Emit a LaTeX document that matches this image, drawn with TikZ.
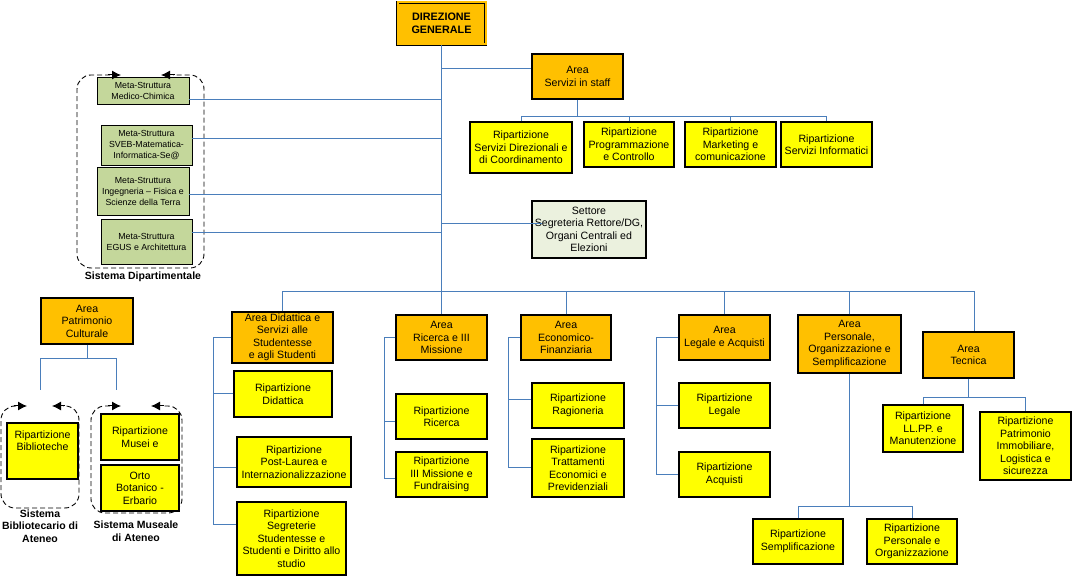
\documentclass[tikz,border=0pt]{standalone}
\usepackage{fontspec}
\setmainfont{Liberation Sans}
\usetikzlibrary{arrows.meta,calc}
\definecolor{orng}{HTML}{FFC000}
\definecolor{ylw}{HTML}{FFFF00}
\definecolor{mgreen}{HTML}{C4D79B}
\definecolor{sgreen}{HTML}{EBF1DE}
\definecolor{lblue}{HTML}{4A7EBB}
\newcommand{\bx}[7]{\node[#6, minimum width={(#4)-(#2)}, minimum height={(#5)-(#3)}] (#1) at ({((#2)+(#4))/2},{((#3)+(#5))/2}) {#7};}
\begin{document}
\begin{tikzpicture}[x=1pt,y=-1pt,
  base/.style={draw=black, line width=1.1pt, inner sep=0pt, align=center, font=\fontsize{10.6}{12.5}\selectfont},
  areabox/.style={base, fill=orng},
  ripbox/.style={base, fill=ylw},
  metabox/.style={base, fill=mgreen, line width=0.9pt, font=\fontsize{8.8}{11}\selectfont},
  setbox/.style={base, fill=sgreen},
  dgbox/.style={base, fill=orng, line width=0.9pt, double=orng, double distance=2pt, font=\bfseries\fontsize{10.8}{12.5}\selectfont},
  conn/.style={draw=lblue, line width=1pt},
  sysline/.style={dash pattern=on 5pt off 3pt, line width=0.9pt, rounded corners=14pt},
  systip/.style={solid, line width=1pt, -{Latex[length=9pt,width=9pt]}},
  syslabel/.style={font=\bfseries\fontsize{10.5}{12.5}\selectfont, align=center, inner sep=0pt}
]
\useasboundingbox (0,0) rectangle (1072,577);

% top
\bx{dg}{397.5}{2.5}{485.5}{44.5}{dgbox}{DIREZIONE\\GENERALE}
\bx{staff}{532}{54}{623}{99}{areabox}{Area\\Servizi in staff}
\bx{r1}{470}{122}{572}{173}{ripbox}{Ripartizione\\Servizi Direzionali e\\di Coordinamento}
\bx{r2}{584}{122}{674}{167}{ripbox}{Ripartizione\\Programmazione\\e Controllo}
\bx{r3}{685}{122}{776}{167}{ripbox}{Ripartizione\\Marketing e\\comunicazione}
\bx{r4}{781}{122}{872}{167}{ripbox}{Ripartizione\\Servizi Informatici}

% meta-strutture
\bx{ms1}{97}{77}{189}{104}{metabox}{Meta-Struttura\\Medico-Chimica}
\bx{ms2}{101}{125}{192}{165}{metabox}{Meta-Struttura\\SVEB-Matematica-\\Informatica-Se@}
\bx{ms3}{97}{167}{189}{215}{metabox}{Meta-Struttura\\Ingegneria – Fisica e\\Scienze della Terra}
\bx{ms4}{101}{219}{192}{264}{metabox}{Meta-Struttura\\EGUS e Architettura}
\draw[sysline] (110,75) -- (77,75) -- (77,268) -- (204,268) -- (204,75) -- (173,75);
\draw[systip] (108,75) -- (121,75);
\draw[systip] (175,75) -- (161,75);
\node[syslabel] (sdlab) at (143,277) {Sistema Dipartimentale};

\bx{settore}{532}{201}{646}{258}{setbox}{Settore\\Segreteria Rettore/DG,\\Organi Centrali ed\\Elezioni}

% patrimonio culturale
\bx{pc}{41}{298}{133}{344}{areabox}{Area\\Patrimonio\\Culturale}
\draw[sysline] (16,406) -- (1,406) -- (1,508) -- (79,508) -- (79,406) -- (63,406);
\draw[systip] (14,406) -- (27,406);
\draw[systip] (65,406) -- (52,406);
\bx{bib}{7}{423}{78}{479}{ripbox}{Ripartizione\\Biblioteche\\[8pt]}
\draw[sysline] (110,406) -- (91,406) -- (91,513) -- (182,513) -- (182,406) -- (162,406);
\draw[systip] (108,406) -- (121,406);
\draw[systip] (164,406) -- (151,406);
\bx{musei}{101}{414}{179}{460}{ripbox}{Ripartizione\\Musei e}
\bx{orto}{101}{465}{179}{511}{ripbox}{Orto\\Botanico -\\Erbario}
\node[syslabel] (sblab) at (40,526) {Sistema\\Bibliotecario di\\Ateneo};
\node[syslabel] (smlab) at (136,531) {Sistema Museale\\di Ateneo};
\coordinate (pcL) at (40,390);
\coordinate (pcR) at (116,390);

% areas
\bx{did}{232}{312}{333}{363}{areabox}{Area Didattica e\\Servizi alle\\Studentesse\\e agli Studenti}
\bx{d1}{234}{371}{332}{417}{ripbox}{Ripartizione\\Didattica}
\bx{d2}{237}{437}{351}{487}{ripbox}{Ripartizione\\Post-Laurea e\\Internazionalizzazione}
\bx{d3}{237}{502}{346}{575}{ripbox}{Ripartizione\\Segreterie\\Studentesse e\\Studenti e Diritto allo\\studio}

\bx{ric}{396}{315}{487}{360}{areabox}{Area\\Ricerca e III\\Missione}
\bx{rr}{396}{394}{487}{439}{ripbox}{Ripartizione\\Ricerca}
\bx{rm}{396}{452}{487}{497}{ripbox}{Ripartizione\\III Missione e\\Fundraising}

\bx{eco}{521}{315}{611}{360}{areabox}{Area\\Economico-\\Finanziaria}
\bx{er}{532}{383}{624}{428}{ripbox}{Ripartizione\\Ragioneria}
\bx{et}{532}{439}{624}{497}{ripbox}{Ripartizione\\Trattamenti\\Economici e\\Previdenziali}

\bx{leg}{679}{315}{770}{360}{areabox}{Area\\Legale e Acquisti}
\bx{ll}{679}{383}{770}{428}{ripbox}{Ripartizione\\Legale}
\bx{la}{679}{452}{770}{497}{ripbox}{Ripartizione\\Acquisti}

\bx{per}{798}{315}{901}{373}{areabox}{Area\\Personale,\\Organizzazione e\\Semplificazione}
\bx{ps}{753}{519}{843}{564}{ripbox}{Ripartizione\\Semplificazione}
\bx{po}{867}{519}{957}{564}{ripbox}{Ripartizione\\Personale e\\Organizzazione}

\bx{tec}{923}{332}{1014}{378}{areabox}{Area\\Tecnica}
\bx{tl}{883}{405}{963}{452}{ripbox}{Ripartizione\\LL.PP. e\\Manutenzione}
\bx{tp}{980}{412}{1071}{480}{ripbox}{Ripartizione\\Patrimonio\\Immobiliare,\\Logistica e\\sicurezza}

% connectors
\draw[conn] (dg.south) -- (ric.north);
\coordinate (stc) at ([yshift=7.5pt]staff.west);
\draw[conn] (stc -| dg.south) -- (stc);
\coordinate (sb) at ([yshift=-17pt]staff.south);
\draw[conn] (staff.south) -- (sb);
\draw[conn] (r1.north) -- (r1.north |- sb) -| (r4.north);
\draw[conn] (r2.north) -- (r2.north |- sb);
\draw[conn] (r3.north) -- (r3.north |- sb);

\coordinate (m1) at ([yshift=-9.5pt]ms1.east);
\coordinate (m2) at ([yshift=6pt]ms2.east);
\coordinate (m3) at ([yshift=-4pt]ms3.east);
\coordinate (m4) at ([yshift=8.5pt]ms4.east);
\foreach \m in {m1,m2,m3,m4} \draw[conn] (\m) -- (\m -| dg.south);

\coordinate (s1) at ([yshift=5.5pt]settore.west);
\draw[conn] (s1 -| dg.south) -- ([xshift=11pt]s1);

\coordinate (busL) at ([yshift=20pt]did.north);
\coordinate (tecin) at ([xshift=5.5pt]tec.north);
\draw[conn] (did.north) -- (busL) -| (tecin);
\foreach \a in {eco,leg,per} \draw[conn] (\a.north) -- (\a.north |- busL);

% didattica
\coordinate (dsp) at ([xshift=-18pt]did.west);
\coordinate (d2c) at ([yshift=-6pt]d2.west);
\coordinate (d3c) at ([yshift=14.5pt]d3.west);
\draw[conn] (did.west) -- (dsp) |- (d3c);
\draw[conn] (d1.west) -- (d1.west -| dsp);
\draw[conn] (d2c) -- (d2c -| dsp);

% ricerca
\coordinate (rsp) at ([xshift=-11pt]ric.west);
\coordinate (rrc) at ([yshift=-5.5pt]rr.west);
\coordinate (rmc) at ([yshift=-4.5pt]rm.west);
\draw[conn] (ric.west) -- (rsp) |- (rmc);
\draw[conn] (rrc) -- (rrc -| rsp);

% economico
\coordinate (esp) at ([xshift=-12pt]eco.west);
\coordinate (erc) at ([yshift=5.5pt]er.west);
\draw[conn] (eco.west) -- (esp) |- (et.west);
\draw[conn] (erc) -- (erc -| esp);

% legale
\coordinate (lsp) at ([xshift=-22pt]leg.west);
\draw[conn] (leg.west) -- (lsp) |- (la.west);
\draw[conn] (ll.west) -- (ll.west -| lsp);

% personale
\coordinate (pbus) at ([yshift=-133pt]per.south);
\draw[conn] (per.south) -- (pbus);
\draw[conn] (ps.north) -- (ps.north |- pbus) -| (po.north);

% tecnica
\coordinate (tbus) at ([yshift=-19pt]tec.south);
\draw[conn] (tec.south) -- (tbus);
\draw[conn] (tl.north) -- (tl.north |- tbus) -| (tp.north);

% patrimonio culturale
\coordinate (pbc) at ([yshift=-14pt]pc.south);
\draw[conn] (pc.south) -- (pbc);
\draw[conn] (pcL) -- (pcL |- pbc) -| (pcR);
\end{tikzpicture}
\end{document}
